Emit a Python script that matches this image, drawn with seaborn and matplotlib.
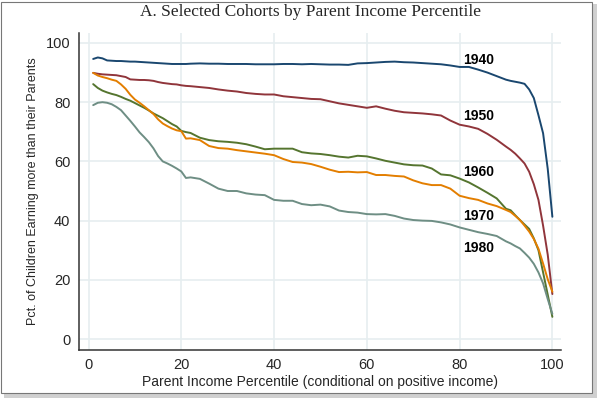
import numpy as np
import pandas as pd
import matplotlib
matplotlib.use('Agg')
import matplotlib.pyplot as plt
import seaborn as sns
from matplotlib.patches import Rectangle

pctile = [1, 2, 3, 4, 5, 6, 7, 8, 9, 10, 11, 12, 13, 14, 15, 16, 17, 18, 19, 20,
          21, 22, 24, 26, 28, 30, 32, 34, 36, 38, 40, 42, 44, 46, 48, 50, 52, 54,
          56, 58, 60, 62, 64, 66, 68, 70, 72, 74, 76, 78, 80, 82, 84, 86, 88, 90,
          91, 92, 93, 94, 95, 96, 97, 98, 99, 100]

c1940 = [94.6, 95.1, 94.8, 94.1, 94.0, 93.9, 93.9, 93.8, 93.7, 93.7, 93.6, 93.5,
         93.4, 93.3, 93.2, 93.1, 93.0, 92.9, 92.9, 92.9, 92.9, 93.0, 93.1, 93.0,
         93.0, 92.9, 92.9, 92.9, 92.8, 92.8, 92.8, 92.9, 92.9, 92.8, 92.9, 92.8,
         92.7, 92.7, 92.6, 93.1, 93.2, 93.4, 93.6, 93.7, 93.5, 93.4, 93.2, 93.0,
         92.8, 92.4, 91.9, 91.9, 91.0, 90.0, 88.8, 87.6, 87.2, 86.9, 86.6, 86.2,
         84.3, 81.4, 75.6, 69.5, 57.5, 41.3]

c1950 = [89.9, 89.6, 89.4, 89.3, 89.2, 89.1, 88.8, 88.5, 87.7, 87.6, 87.5, 87.5,
         87.4, 87.2, 86.8, 86.5, 86.3, 86.1, 86.0, 85.7, 85.5, 85.4, 85.1, 84.8,
         84.3, 83.9, 83.6, 83.1, 82.8, 82.6, 82.6, 82.0, 81.7, 81.4, 81.1, 81.0,
         80.3, 79.6, 79.1, 78.6, 78.1, 78.6, 77.8, 77.1, 76.6, 76.4, 76.2, 75.9,
         75.5, 73.8, 72.4, 71.8, 71.0, 69.3, 67.3, 65.0, 63.9, 62.6, 61.0, 59.3,
         56.5, 52.3, 47.0, 38.3, 28.5, 15.2]

c1960 = [86.1, 84.8, 83.9, 83.3, 82.8, 82.4, 81.8, 81.1, 80.5, 79.7, 78.9, 78.1,
         77.2, 76.2, 75.4, 74.6, 73.6, 72.6, 71.8, 70.3, 69.9, 69.6, 68.0, 67.2,
         66.8, 66.6, 66.3, 65.8, 65.0, 64.1, 64.3, 64.3, 64.3, 63.1, 62.7, 62.5,
         62.1, 61.6, 61.3, 61.9, 61.7, 61.0, 60.2, 59.6, 59.0, 58.7, 58.6, 57.6,
         55.6, 55.3, 54.2, 52.9, 51.2, 49.4, 47.5, 44.0, 43.5, 41.8, 40.2, 38.7,
         37.2, 34.0, 30.0, 22.5, 15.0, 7.5]

c1970 = [89.9, 89.0, 88.5, 88.1, 87.6, 87.2, 86.0, 84.5, 82.5, 80.9, 79.8, 78.6,
         77.3, 76.0, 74.2, 72.8, 71.9, 71.1, 70.5, 70.2, 67.7, 67.8, 67.2, 65.2,
         64.5, 64.3, 63.8, 63.4, 63.0, 62.6, 62.1, 60.8, 59.8, 59.6, 59.1, 58.2,
         57.2, 56.4, 56.5, 56.3, 56.4, 55.4, 55.4, 55.1, 54.9, 53.6, 52.6, 52.0,
         52.0, 50.8, 48.4, 47.6, 47.0, 45.8, 44.9, 43.6, 42.9, 41.6, 40.2, 38.3,
         36.3, 33.8, 30.5, 25.5, 20.2, 16.0]

c1980 = [79.0, 79.8, 80.0, 79.8, 79.3, 78.4, 77.3, 75.5, 73.7, 71.8, 69.8, 68.2,
         66.5, 64.4, 61.8, 60.0, 59.3, 58.5, 57.6, 56.6, 54.4, 54.6, 54.1, 52.5,
         50.8, 50.0, 50.0, 49.2, 48.8, 48.6, 47.0, 46.7, 46.7, 45.6, 45.2, 45.4,
         44.8, 43.4, 42.9, 42.7, 42.2, 42.1, 42.2, 41.6, 40.7, 40.2, 40.0, 39.9,
         39.4, 38.7, 37.7, 36.9, 36.1, 35.5, 34.8, 33.0, 32.3, 31.4, 30.6, 29.1,
         27.5, 25.4, 22.5, 18.8, 13.5, 8.5]

cohorts = ['1940', '1950', '1960', '1970', '1980']
label_y = [94.4, 75.4, 56.5, 41.6, 30.6]
colors = ['#1a476f', '#90353b', '#55752f', '#e37e00', '#6e8e84']

df = pd.DataFrame({
    'pctile': pctile * 5,
    'value': c1940 + c1950 + c1960 + c1970 + c1980,
    'cohort': np.repeat(cohorts, len(pctile))
})

sns.set_style('white')
plt.rcParams['font.family'] = ['Liberation Sans', 'DejaVu Sans']

fig = plt.figure(figsize=(5.97, 3.98), dpi=100)
ax = fig.add_axes([0.132, 0.1206, 0.808, 0.796])

sns.lineplot(
    data=df,
    x='pctile',
    y='value',
    hue='cohort',
    palette=colors,
    linewidth=1.4,
    legend=False,
    ax=ax
)

for name, y in zip(cohorts, label_y):
    ax.text(80.8, y, name, fontsize=10, fontweight='bold',
            ha='left', va='center', color='black')

ax.set_xlim(-2.1, 101.9)
ax.set_ylim(-3.7, 103.3)
ax.set_xticks([0, 20, 40, 60, 80, 100])
ax.set_yticks([0, 20, 40, 60, 80, 100])
ax.grid(True, color='#e6eef0', linewidth=1.2)
ax.set_axisbelow(True)

for s in ['top', 'right']:
    ax.spines[s].set_visible(False)
for s in ['left', 'bottom']:
    ax.spines[s].set_color('#333333')
    ax.spines[s].set_linewidth(1.1)

ax.tick_params(axis='both', direction='out', length=4, width=1,
               color='#333333', labelsize=10.5, pad=2)

ax.set_xlabel('Parent Income Percentile (conditional on positive income)',
              fontsize=10, labelpad=2)
ax.set_ylabel('Pct. of Children Earning more than their Parents',
              fontsize=9, labelpad=5)

fig.text(0.52, 0.97, 'A. Selected Cohorts by Parent Income Percentile',
         ha='center', va='center', fontsize=12.5,
         family=['Liberation Serif', 'DejaVu Serif'])

# thin frame with a small drop shadow round the picture
fig.patches.append(Rectangle((0.007, 0.0), 0.993, 0.012, transform=fig.transFigure,
                             facecolor='#d0d0d0', edgecolor='none'))
fig.patches.append(Rectangle((0.993, 0.0), 0.007, 0.99, transform=fig.transFigure,
                             facecolor='#d0d0d0', edgecolor='none'))
fig.patches.append(Rectangle((0.002, 0.012), 0.989, 0.984, transform=fig.transFigure,
                             facecolor='none', edgecolor='#777777', linewidth=0.8))

fig.savefig('out.png', dpi=100)
